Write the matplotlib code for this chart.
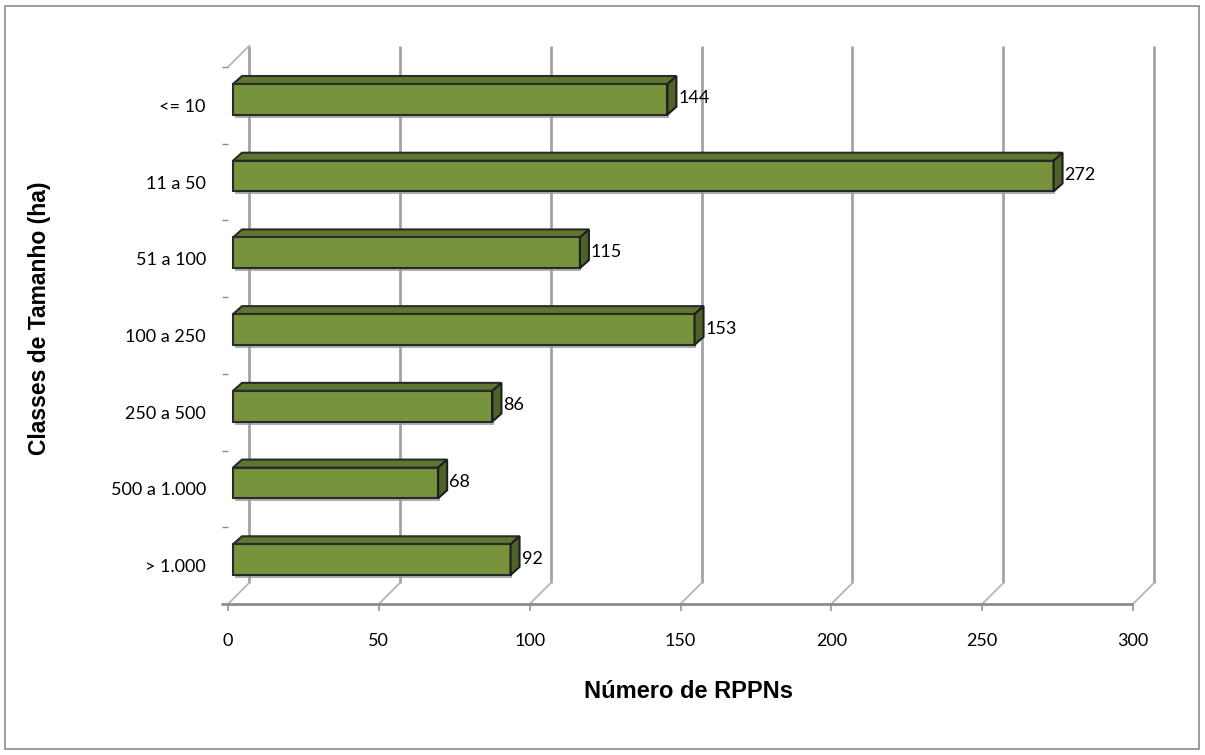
import matplotlib
matplotlib.use("Agg")
import matplotlib.pyplot as plt
from matplotlib.patches import Polygon, Rectangle
from matplotlib.ticker import FixedLocator

# Data
categories = ["> 1.000", "500 a 1.000", "250 a 500", "100 a 250", "51 a 100", "11 a 50", "<= 10"]
values = [92, 68, 86, 153, 115, 272, 144]
x_ticks = [0, 50, 100, 150, 200, 250, 300]

W, H, DPI = 1205, 755, 100
fig = plt.figure(figsize=(W / DPI, H / DPI), dpi=DPI)
fig.patch.set_facecolor("white")

# axes placed in pixel terms (front plane of the pseudo-3D box)
left_px, right_px, top_px, bottom_px = 228, 1133, 67, 604
ax = fig.add_axes([left_px / W, 1 - bottom_px / H,
                   (right_px - left_px) / W, (bottom_px - top_px) / H])
ax.set_xlim(0, 300)
ax.set_ylim(0, len(categories))
ax.set_facecolor("none")
for s in ax.spines.values():
    s.set_visible(False)

# pixel -> data conversion factors
sx = 300 / (right_px - left_px)
sy = len(categories) / (bottom_px - top_px)

grid_col = "#A3A3A3"
depth_x, depth_y = 21 * sx, 21 * sy

# back wall gridlines with floor diagonals
for v in x_ticks:
    ax.plot([v + depth_x, v + depth_x], [depth_y, len(categories) + depth_y],
            color=grid_col, lw=2.0, clip_on=False, zorder=1, solid_capstyle="butt")
    ax.plot([v, v + depth_x], [0, depth_y], color="#B5B5B5", lw=1.3,
            clip_on=False, zorder=1)
# top edge of the left wall
ax.plot([0, depth_x], [len(categories), len(categories) + depth_y],
        color="#B5B5B5", lw=1.3, clip_on=False, zorder=1)
# floor front edge
ax.plot([-7 * sx, 300], [0, 0], color="#8C8C8C", lw=2.0, clip_on=False, zorder=2,
        solid_capstyle="butt")

# bars
bar_h = 0.40
bar_dx, bar_dy = 5 * sx, 6 * sy
face_dx, face_dy = 9 * sx, 8 * sy
front_col, top_col, side_col = "#77933C", "#5E7630", "#4F6228"
edge_col = "#2A2A2A"

ypos = [i + 0.5 + bar_dy for i in range(len(categories))]

# soft shadow beneath the bars
for y, v in zip(ypos, values):
    ax.add_patch(Rectangle((bar_dx + 1.5 * sx, y - bar_h / 2 - 3 * sy),
                           v, bar_h, facecolor="#9A9A9A", edgecolor="none",
                           zorder=2, alpha=0.8))

ax.barh(ypos, values, height=bar_h, left=bar_dx, color=front_col,
        edgecolor=edge_col, linewidth=1.5, zorder=4)

for y, v in zip(ypos, values):
    x0, x1 = bar_dx, bar_dx + v
    yb, yt = y - bar_h / 2, y + bar_h / 2
    top = Polygon([(x0, yt), (x1, yt), (x1 + face_dx, yt + face_dy),
                   (x0 + face_dx, yt + face_dy)], closed=True,
                  facecolor=top_col, edgecolor=edge_col, lw=1.5, zorder=3)
    side = Polygon([(x1, yb), (x1, yt), (x1 + face_dx, yt + face_dy),
                    (x1 + face_dx, yb + face_dy)], closed=True,
                   facecolor=side_col, edgecolor="#1E1E1E", lw=1.5, zorder=5)
    ax.add_patch(top)
    ax.add_patch(side)
    ax.text(x1 + face_dx + 2 * sx, y + 1 * sy, f"{v}", ha="left", va="center",
            fontsize=13, family="Lato", color="black", zorder=6)

# ticks
ax.set_xticks(x_ticks)
ax.set_xticklabels([str(t) for t in x_ticks], family="Lato", fontsize=13)
ax.tick_params(axis="x", length=5, width=1.1, color="#8C8C8C", pad=16)

ax.set_yticks([i + 0.5 for i in range(len(categories))])
ax.set_yticklabels(categories, family="Lato", fontsize=13)
ax.tick_params(axis="y", which="major", length=0, pad=16)
ax.yaxis.set_minor_locator(FixedLocator(list(range(1, len(categories) + 1))))
ax.tick_params(axis="y", which="minor", length=4.5, width=1.0, color="#8C8C8C")

# axis titles
fig.text(40 / W, 1 - 318 / H, "Classes de Tamanho (ha)", rotation=90,
         ha="center", va="center", fontsize=16.5, fontweight="bold",
         family=["Liberation Sans", "DejaVu Sans"])
fig.text(688 / W, 1 - 692 / H, "Número de RPPNs", ha="center", va="center",
         fontsize=17, fontweight="bold",
         family=["Liberation Sans Narrow", "Liberation Sans", "DejaVu Sans"])

# outer frame
fig.add_artist(Rectangle((5 / W, 6 / H), (W - 11) / W, (H - 12) / H,
                         transform=fig.transFigure, fill=False,
                         edgecolor="#8C8C8C", linewidth=1.2))

fig.savefig("out.png", dpi=DPI, facecolor="white")
